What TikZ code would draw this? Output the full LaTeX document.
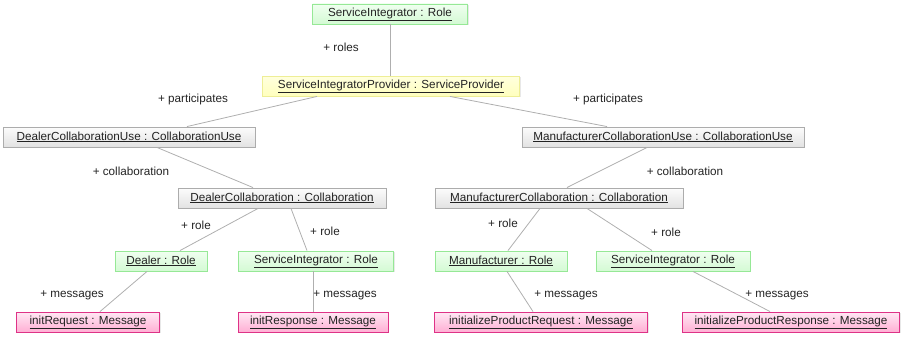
\documentclass[tikz,border=0pt]{standalone}
\usepackage{fontspec}
\setmainfont{Liberation Sans}
\usetikzlibrary{shadows}

\definecolor{txt}{RGB}{35,35,35}
\definecolor{wire}{RGB}{175,175,175}
\definecolor{grnline}{RGB}{150,232,150}
\definecolor{grntop}{RGB}{240,255,240}
\definecolor{grnbot}{RGB}{212,250,212}
\definecolor{pnkline}{RGB}{222,50,135}
\definecolor{pnktop}{RGB}{255,232,244}
\definecolor{pnkbot}{RGB}{255,175,212}
\definecolor{gryline}{RGB}{172,172,172}
\definecolor{grytop}{RGB}{252,252,252}
\definecolor{grybot}{RGB}{226,226,226}
\definecolor{ylwline}{RGB}{238,238,150}
\definecolor{ylwtop}{RGB}{255,255,222}
\definecolor{ylwbot}{RGB}{255,255,190}

\newcommand{\obj}[1]{\underline{#1}}

\tikzset{
  x=1pt, y=-1pt,
  every node/.style={font=\fontsize{11.7}{14}\selectfont, text=txt},
  instbox/.style={rectangle, line width=0.9pt, minimum height=20pt,
    inner sep=0pt, anchor=center,
    drop shadow={shadow xshift=1.2pt, shadow yshift=-1.2pt, opacity=0.18}},
  rolebox/.style={instbox, draw=grnline, top color=grntop, bottom color=grnbot},
  msgbox/.style={instbox, draw=pnkline, top color=pnktop, bottom color=pnkbot},
  collbox/.style={instbox, draw=gryline, top color=grytop, bottom color=grybot},
  provbox/.style={instbox, draw=ylwline, top color=ylwtop, bottom color=ylwbot},
  link/.style={draw=wire, line width=0.8pt},
  lbl/.style={inner sep=0pt}
}

\begin{document}
\begin{tikzpicture}
\useasboundingbox (0,0) rectangle (904,337);

% instances
\node[rolebox, minimum width=155pt] (si)   at (390,14)  {\obj{ServiceIntegrator : Role}};
\node[provbox, minimum width=257pt] (sip)  at (391,86)  {\obj{ServiceIntegratorProvider : ServiceProvider}};
\node[collbox, minimum width=252pt] (dcu)  at (129,137) {\obj{DealerCollaborationUse : CollaborationUse}};
\node[collbox, minimum width=282pt] (mcu)  at (663,137) {\obj{ManufacturerCollaborationUse : CollaborationUse}};
\node[collbox, minimum width=208pt] (dc)   at (282,198) {\obj{DealerCollaboration : Collaboration}};
\node[collbox, minimum width=248pt] (mc)   at (559,198) {\obj{ManufacturerCollaboration : Collaboration}};
\node[rolebox, minimum width=92pt]  (dealer) at (161,261) {\obj{Dealer : Role}};
\node[rolebox, minimum width=155pt] (sil)  at (316,261) {\obj{ServiceIntegrator : Role}};
\node[rolebox, minimum width=132pt] (manu) at (501,261) {\obj{Manufacturer : Role}};
\node[rolebox, minimum width=154pt] (sir)  at (673,261) {\obj{ServiceIntegrator : Role}};
\node[msgbox, minimum width=143pt]  (ireq)   at (88,322)  {\obj{initRequest : Message}};
\node[msgbox, minimum width=150pt]  (iresp)  at (313,322) {\obj{initResponse : Message}};
\node[msgbox, minimum width=213pt]  (ipreq)  at (541,322) {\obj{initializeProductRequest : Message}};
\node[msgbox, minimum width=217pt]  (ipresp) at (791,322) {\obj{initializeProductResponse : Message}};

% links
\draw[link] (si.south) -- (si.south |- sip.north);
\draw[link] ([xshift=-74pt]sip.south) -- ([xshift=58pt]dcu.north);
\draw[link] ([xshift=59pt]sip.south) -- ([xshift=-56pt]mcu.north);
\draw[link] ([xshift=28pt]dcu.south) -- ([xshift=-29pt]dc.north);
\draw[link] ([xshift=-16pt]mcu.south) -- ([xshift=8pt]mc.north);
\draw[link] ([xshift=-24pt]dc.south) -- ([xshift=19pt]dealer.north);
\draw[link] ([xshift=9pt]dc.south) -- ([xshift=-9pt]sil.north);
\draw[link] ([xshift=-19pt]mc.south) -- ([xshift=7pt]manu.north);
\draw[link] ([xshift=28pt]mc.south) -- ([xshift=-21pt]sir.north);
\draw[link] ([xshift=-14pt]dealer.south) -- ([xshift=12pt]ireq.north);
\draw[link] ([xshift=-3pt]sil.south) -- (iresp.north);
\draw[link] ([xshift=6pt]manu.south) -- ([xshift=-8pt]ipreq.north);
\draw[link] ([xshift=20pt]sir.south) -- ([xshift=-21pt]ipresp.north);

% role names
\node[lbl] (lroles) at (341,47)  {+ roles};
\node[lbl] (lpartl) at (193,99)  {+ participates};
\node[lbl] (lpartr) at (608,99)  {+ participates};
\node[lbl] (lcolll) at (131,171) {+ collaboration};
\node[lbl] (lcollr) at (685,171) {+ collaboration};
\node[lbl] (lrole1) at (196,225) {+ role};
\node[lbl] (lrole2) at (325,231) {+ role};
\node[lbl] (lrole3) at (503,223) {+ role};
\node[lbl] (lrole4) at (666,232) {+ role};
\node[lbl] (lmsg1)  at (72,295)  {+ messages};
\node[lbl] (lmsg2)  at (345,295) {+ messages};
\node[lbl] (lmsg3)  at (566,295) {+ messages};
\node[lbl] (lmsg4)  at (777,295) {+ messages};
\end{tikzpicture}
\end{document}
